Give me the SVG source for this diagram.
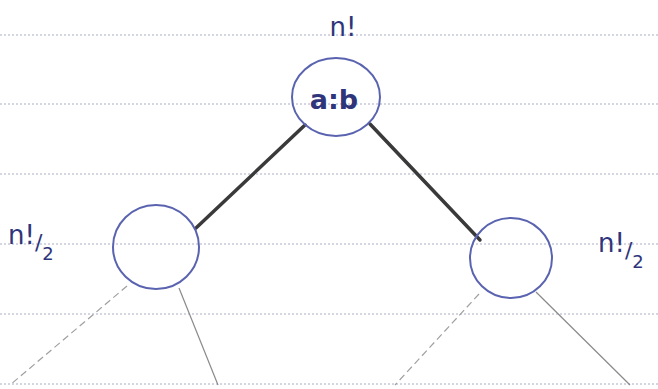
<svg xmlns="http://www.w3.org/2000/svg" width="658" height="389" viewBox="0 0 658 389">
<style>
.rule{stroke:#a9adc4;stroke-width:1.2;stroke-dasharray:2 2;}
.node{fill:none;stroke:#5a63b0;stroke-width:2;}
.lbl{font-family:"DejaVu Sans","Liberation Sans",sans-serif;fill:#2f357a;}
.edge{stroke:#3a3a3a;stroke-width:3.5;stroke-linecap:round;}
.sub{stroke:#8a8a8a;stroke-width:1.2;}
.subd{stroke:#a0a0a0;stroke-width:1.2;stroke-dasharray:7 4;}
</style>
<rect width="658" height="389" fill="#ffffff"/>
<g id="rules">
<line class="rule" x1="0" y1="35" x2="658" y2="35"/>
<line class="rule" x1="0" y1="104" x2="658" y2="104"/>
<line class="rule" x1="0" y1="174" x2="658" y2="174"/>
<line class="rule" x1="0" y1="244" x2="658" y2="244"/>
<line class="rule" x1="0" y1="314" x2="658" y2="314"/>
<line class="rule" x1="0" y1="384" x2="658" y2="384"/>
</g>
<g id="connectors">
<line class="edge" x1="305" y1="125" x2="196" y2="228"/>
<line class="edge" x1="370" y1="124" x2="480" y2="240"/>
<line class="subd" x1="127" y1="286" x2="10" y2="385"/>
<line class="sub" x1="179" y1="288" x2="218" y2="385"/>
<line class="subd" x1="479" y1="294" x2="395" y2="385"/>
<line class="sub" x1="536" y1="292" x2="630" y2="385"/>
</g>
<g id="root">
<ellipse class="node" cx="336" cy="97" rx="44" ry="39"/>
<text class="lbl" x="334" y="109" font-size="27" font-weight="bold" text-anchor="middle">a:b</text>
<text class="lbl" x="343" y="36" font-size="26" text-anchor="middle">n!</text>
</g>
<g id="left">
<ellipse class="node" cx="156" cy="247" rx="43" ry="42"/>
<text class="lbl" x="8" y="244" font-size="26">n!<tspan font-size="22" dy="6">/</tspan><tspan font-size="18" dy="10">2</tspan></text>
</g>
<g id="right">
<ellipse class="node" cx="511" cy="258" rx="41" ry="40"/>
<text class="lbl" x="598" y="252" font-size="26">n!<tspan font-size="22" dy="6">/</tspan><tspan font-size="18" dy="10">2</tspan></text>
</g>
</svg>
